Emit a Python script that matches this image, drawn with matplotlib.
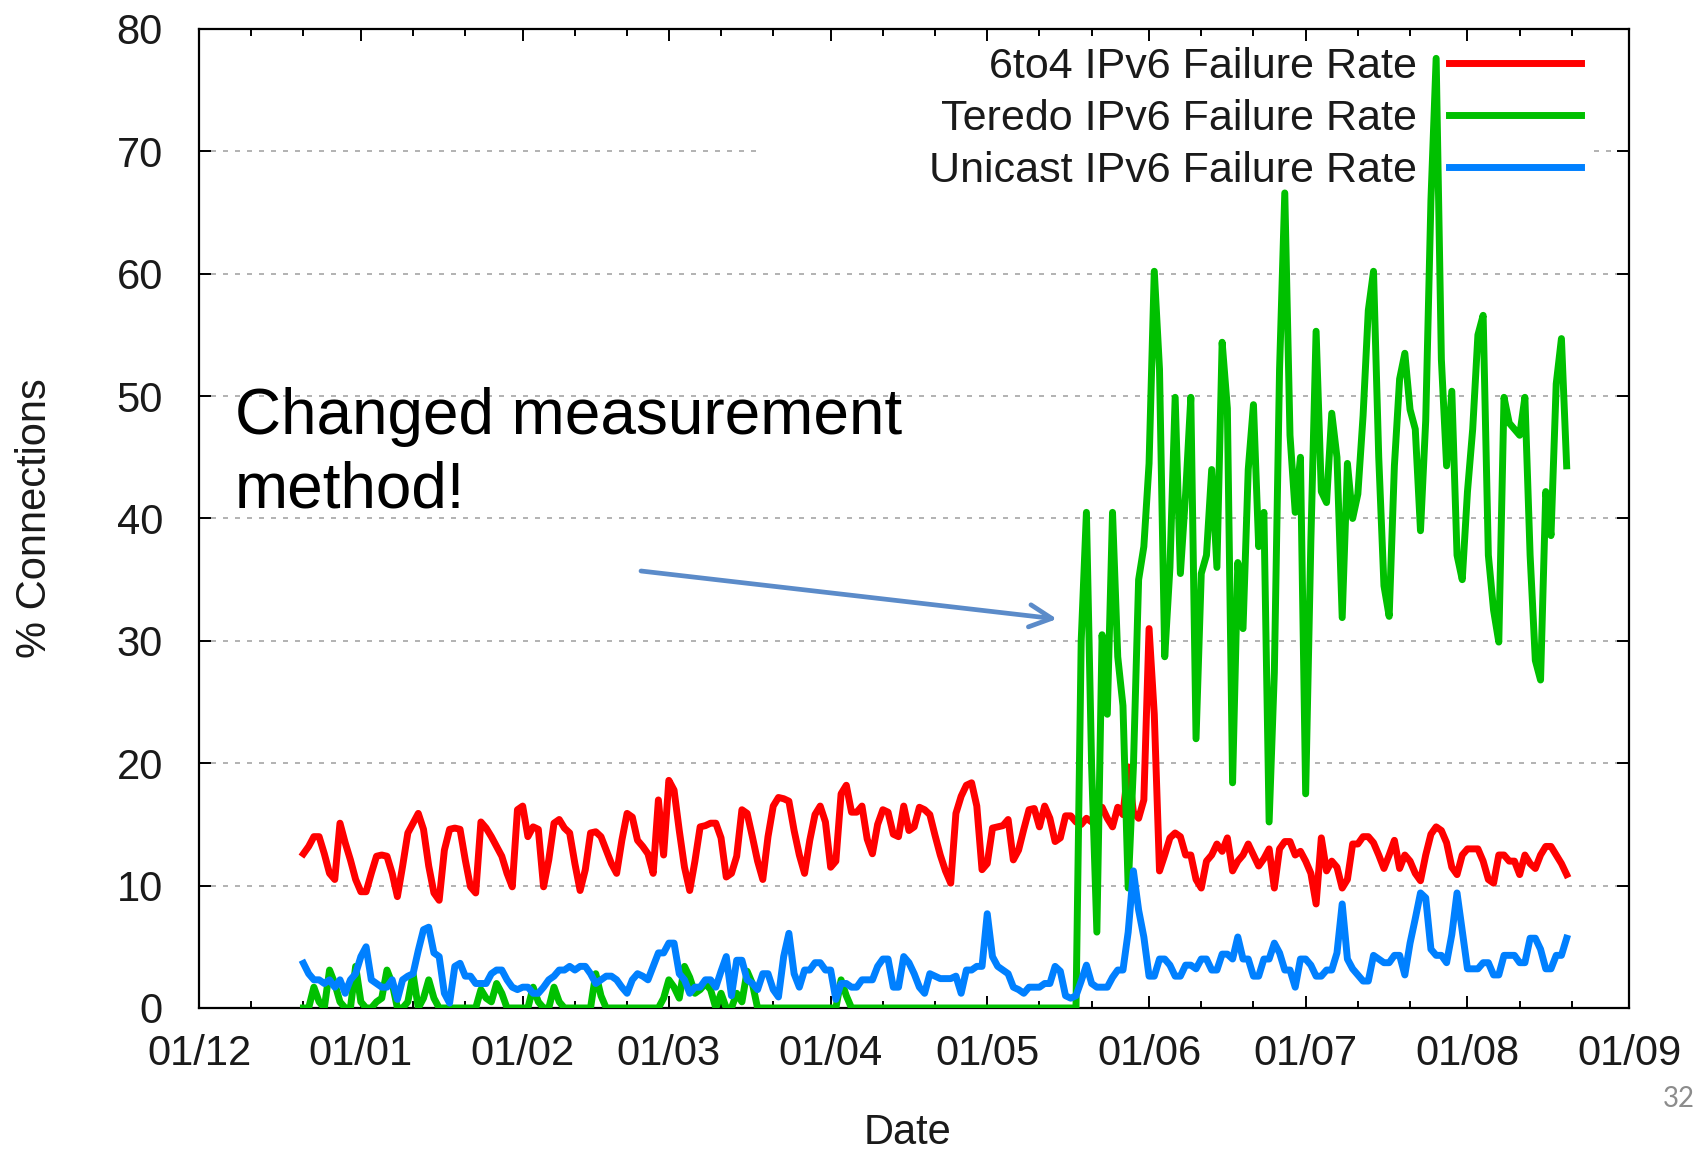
import numpy as np
import pandas as pd
import matplotlib
matplotlib.use('Agg')
import matplotlib.pyplot as plt
import matplotlib.dates as mdates

# Daily failure rates (%), 21 Dec 2010 - 20 Aug 2011
rate_6to4 = [
    # Dec
    12.6, 13.2, 14.0, 14.0, 12.6, 11.0, 10.5, 15.1, 13.5, 12.1, 10.5,
    # Jan
    9.5, 9.5, 11.0, 12.4, 12.5, 12.4, 11.0, 9.1, 11.6, 14.3,
    15.1, 15.9, 14.6, 11.6, 9.4, 8.8, 12.9, 14.6, 14.7, 14.6,
    12.1, 9.9, 9.4, 15.2, 14.7, 14.0, 13.2, 12.4, 11.0, 9.9, 16.2,
    # Feb
    16.5, 14.0, 14.8, 14.6, 9.9, 12.1, 15.1, 15.4, 14.7, 14.3,
    11.8, 9.6, 11.3, 14.3, 14.4, 14.0, 12.9, 11.8, 11.0, 13.7,
    15.9, 15.6, 13.7, 13.2, 12.6, 11.0, 17.0, 12.5,
    # Mar
    18.6, 17.8, 14.5, 11.5, 9.6, 12.0, 14.8, 14.9, 15.1, 15.1,
    13.9, 10.7, 11.0, 12.4, 16.2, 15.9, 14.0, 12.0, 10.5, 14.0,
    16.5, 17.2, 17.1, 16.9, 14.5, 12.5, 11.0, 13.7, 15.8, 16.5, 15.2,
    # Apr
    11.5, 12.0, 17.5, 18.2, 16.0, 16.0, 16.5, 13.8, 12.6, 15.0,
    16.2, 16.0, 14.2, 14.0, 16.5, 14.5, 14.8, 16.4, 16.2, 15.8,
    14.1, 12.5, 11.2, 10.2, 15.9, 17.3, 18.2, 18.4, 16.5, 11.3,
    # May
    11.8, 14.7, 14.8, 14.9, 15.4, 12.1, 12.9, 14.6, 16.2, 16.3,
    14.8, 16.5, 15.5, 13.6, 13.9, 15.7, 15.7, 15.2, 15.0, 15.5,
    15.2, 15.6, 16.4, 15.5, 14.8, 16.4, 15.8, 19.7, 16.0, 15.5, 17.0,
    # Jun
    31.0, 24.0, 11.2, 12.5, 13.9, 14.3, 14.0, 12.5, 12.5, 10.5,
    9.8, 12.0, 12.5, 13.4, 12.8, 13.9, 11.2, 12.0, 12.5, 13.4,
    12.5, 11.6, 12.2, 13.0, 9.8, 13.0, 13.6, 13.6, 12.5, 12.8,
    # Jul
    12.0, 11.0, 8.5, 13.9, 11.2, 12.0, 11.5, 9.8, 10.5, 13.4,
    13.4, 14.0, 14.0, 13.5, 12.5, 11.4, 12.5, 13.7, 11.4, 12.5,
    12.0, 11.0, 10.4, 12.5, 14.2, 14.8, 14.5, 13.5, 11.5, 10.9, 12.5,
    # Aug
    13.0, 13.0, 13.0, 12.0, 10.5, 10.2, 12.5, 12.5, 12.0, 12.0,
    10.9, 12.5, 11.8, 11.4, 12.5, 13.2, 13.2, 12.5, 11.8, 10.9,
]

rate_teredo = [
    # Dec
    0, 0, 1.7, 0.5, 0, 3.1, 2.0, 0.5, 0, 0, 3.4,
    # Jan
    0.5, 0, 0, 0.5, 0.8, 3.1, 2.0, 0, 0, 0.5,
    2.8, 0, 0.8, 2.3, 0.8, 0, 0, 0, 0, 0,
    0, 0, 0, 1.5, 0.8, 0.5, 2.0, 1.2, 0, 0, 0,
    # Feb
    0, 0, 1.7, 0.5, 0, 0, 1.7, 0.5, 0, 0,
    0, 0, 0, 0, 2.8, 1.0, 0, 0, 0, 0,
    0, 0, 0, 0, 0, 0, 0, 0.8,
    # Mar
    2.3, 1.7, 0.8, 3.4, 2.5, 1.2, 1.5, 2.0, 1.5, 0,
    1.2, 0, 0, 1.2, 0.5, 3.0, 2.0, 0, 0, 0,
    0, 0, 0, 0, 0, 0, 0, 0, 0, 0, 0,
    # Apr
    0, 0, 2.3, 1.0, 0, 0, 0, 0, 0, 0,
    0, 0, 0, 0, 0, 0, 0, 0, 0, 0,
    0, 0, 0, 0, 0, 0, 0, 0, 0, 0,
    # May
    0, 0, 0, 0, 0, 0, 0, 0, 0, 0,
    0, 0, 0, 0, 0, 0, 0, 0, 30, 40.5,
    19.7, 6.2, 30.5, 24, 40.5, 28.7, 24.7, 9.8, 19.7, 35, 37.7,
    # Jun
    44.5, 60.2, 52.2, 28.7, 36, 49.9, 35.5, 42, 49.9, 22,
    35.5, 37, 44, 36, 54.4, 49, 18.4, 36.4, 31, 44,
    49.3, 37.7, 40.5, 15.2, 27.4, 52.2, 66.6, 46.8, 40.5, 45,
    # Jul
    17.5, 38.2, 55.3, 42.2, 41.3, 48.6, 45, 31.9, 44.5, 40,
    42, 48.4, 57, 60.2, 45, 34.5, 32, 44.3, 51.4, 53.5,
    48.9, 47.3, 39, 48, 66, 77.6, 53, 44.3, 50.4, 37, 35,
    # Aug
    42.2, 47.3, 55, 56.6, 37, 32.5, 29.9, 49.9, 47.8, 47.3,
    46.8, 49.9, 37, 28.4, 26.8, 42.2, 38.6, 51, 54.7, 44.3,
]

rate_unicast = [
    # Dec
    3.65, 2.8, 2.3, 2.3, 2.0, 2.3, 1.7, 2.3, 1.2, 2.3, 2.8,
    # Jan
    4.2, 5.0, 2.3, 2.0, 1.7, 1.7, 2.3, 0.7, 2.3, 2.6,
    2.8, 4.7, 6.4, 6.6, 4.5, 4.2, 1.2, 0.4, 3.4, 3.65,
    2.6, 2.6, 2.0, 2.0, 2.0, 2.8, 3.1, 3.1, 2.3, 1.7, 1.5,
    # Feb
    1.7, 1.7, 1.2, 1.2, 1.7, 2.3, 2.6, 3.1, 3.1, 3.4,
    3.1, 3.4, 3.4, 2.8, 2.0, 2.3, 2.6, 2.6, 2.3, 1.7,
    1.2, 2.3, 2.8, 2.6, 2.3, 3.4, 4.5, 4.5,
    # Mar
    5.3, 5.3, 2.8, 2.3, 1.2, 1.7, 1.7, 2.3, 2.3, 1.7,
    3.0, 4.2, 1.0, 3.9, 3.9, 2.3, 2.0, 1.5, 2.8, 2.8,
    1.5, 0.9, 4.2, 6.1, 2.8, 1.7, 3.1, 3.1, 3.7, 3.7, 3.1,
    # Apr
    3.1, 0.7, 2.0, 2.0, 1.7, 1.7, 2.3, 2.3, 2.3, 3.4,
    4.0, 4.0, 1.7, 1.7, 4.2, 3.7, 2.8, 1.7, 1.2, 2.8,
    2.6, 2.4, 2.4, 2.4, 2.6, 1.2, 3.1, 3.1, 3.4, 3.4,
    # May
    7.7, 4.2, 3.4, 3.1, 2.8, 1.7, 1.5, 1.2, 1.7, 1.7,
    1.7, 2.0, 2.0, 3.4, 3.0, 1.0, 0.8, 1.0, 2.2, 3.5,
    2.0, 1.7, 1.7, 1.7, 2.5, 3.1, 3.1, 6.2, 11.2, 8.0, 5.8,
    # Jun
    2.6, 2.6, 4.0, 4.0, 3.5, 2.6, 2.6, 3.5, 3.5, 3.2,
    4.0, 4.0, 3.1, 3.1, 4.4, 4.4, 4.0, 5.8, 4.0, 4.0,
    2.6, 2.6, 4.0, 4.0, 5.3, 4.5, 3.1, 3.1, 1.7, 4.0,
    # Jul
    4.0, 3.5, 2.6, 2.6, 3.1, 3.1, 4.5, 8.5, 4.0, 3.2,
    2.7, 2.2, 2.2, 4.3, 4.0, 3.7, 3.7, 4.3, 4.3, 2.7,
    5.3, 7.3, 9.4, 9.0, 4.8, 4.3, 4.3, 3.7, 6.0, 9.4, 6.3,
    # Aug
    3.2, 3.2, 3.2, 3.7, 3.7, 2.7, 2.7, 4.3, 4.3, 4.3,
    3.7, 3.7, 5.7, 5.7, 4.8, 3.2, 3.2, 4.3, 4.3, 5.7,
]

first_day = '2010-12-21'
series_labels = ['6to4 IPv6 Failure Rate', 'Teredo IPv6 Failure Rate',
                 'Unicast IPv6 Failure Rate']
y_ticks = [0, 10, 20, 30, 40, 50, 60, 70, 80]


def main():
    plt.rcParams['font.family'] = ['Liberation Sans', 'DejaVu Sans']

    dates = pd.date_range(first_day, periods=len(rate_6to4), freq='D')

    fig = plt.figure(figsize=(16.94, 11.5), dpi=100)
    ax = fig.add_axes([0.1175, 0.1235, 0.8443, 0.8513])

    #dashed grey grid, the 70 line is broken where the key sits
    grid_kw = dict(color='#a6a6a6', linewidth=1.2, dashes=(3.0, 4.2), zorder=1)
    for v in y_ticks[1:-1]:
        if v == 70:
            ax.axhline(v, xmin=0, xmax=0.39, **grid_kw)
            ax.axhline(v, xmin=0.975, xmax=1, **grid_kw)
        else:
            ax.axhline(v, **grid_kw)

    lw = 5.0
    ax.plot(dates, rate_6to4, color='#ff0000', linewidth=lw, label=series_labels[0], zorder=3)
    ax.plot(dates, rate_teredo, color='#00c000', linewidth=lw, label=series_labels[1], zorder=4)
    ax.plot(dates, rate_unicast, color='#0080ff', linewidth=lw, label=series_labels[2], zorder=5)

    ax.set_xlim(pd.Timestamp('2010-12-01'), pd.Timestamp('2011-09-01'))
    ax.set_ylim(0, 80)
    ax.set_yticks(y_ticks)
    ax.xaxis.set_major_locator(mdates.MonthLocator())
    ax.xaxis.set_minor_locator(mdates.DayLocator(bymonthday=[11, 21]))
    ax.xaxis.set_major_formatter(mdates.DateFormatter('%d/%m'))

    ax.tick_params(which='both', direction='in', top=True, right=True,
                   width=1.4, colors='black', labelcolor='#1a1a1a', labelsize=30)
    ax.tick_params(which='major', length=8.6)
    ax.tick_params(which='minor', length=5)
    ax.tick_params(axis='x', pad=19)
    ax.tick_params(axis='y', pad=26)
    for s in ax.spines.values():
        s.set_linewidth(1.6)

    ax.set_ylabel('% Connections', fontsize=30, color='#1a1a1a', va='center')
    ax.yaxis.set_label_coords(-0.115, 0.5)
    ax.set_xlabel('Date', fontsize=30, color='#1a1a1a')
    ax.xaxis.set_label_coords(0.4955, -0.107)

    leg = ax.legend(loc='upper right', bbox_to_anchor=(0.966, 0.982), frameon=False,
                    markerfirst=False, alignment='right', handlelength=3.05,
                    handletextpad=0.75, labelspacing=0.28, borderaxespad=0,
                    borderpad=0, fontsize=31, labelcolor='#1a1a1a')
    for h in leg.get_lines():
        h.set_linewidth(lw)

    #slide annotation
    fig.text(235 / 1694, 1 - 434 / 1150, 'Changed measurement', fontsize=46,
             va='baseline', ha='left', color='black')
    fig.text(235 / 1694, 1 - 508 / 1150, 'method!', fontsize=46,
             va='baseline', ha='left', color='black')
    ax.annotate('', xy=(1057 / 1694, 1 - 619 / 1150), xycoords='figure fraction',
                xytext=(641 / 1694, 1 - 571 / 1150), textcoords='figure fraction',
                arrowprops=dict(arrowstyle='->', color='#5b8bc9', lw=3.4,
                                mutation_scale=40, shrinkA=0, shrinkB=0))
    fig.text(1663 / 1694, 1 - 1107 / 1150, '32', fontsize=20, color='#8c8c8c',
             family='Lato', va='baseline', ha='left')

    fig.savefig('out.png', dpi=100, facecolor='white')


if __name__ == '__main__':
    main()
